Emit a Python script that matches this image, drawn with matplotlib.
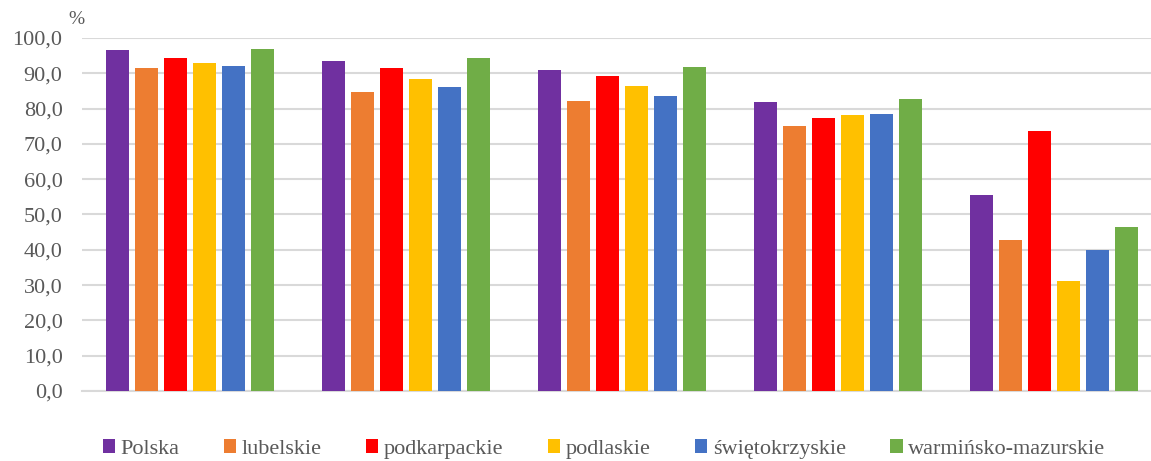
import matplotlib
matplotlib.use("Agg")
import matplotlib.pyplot as plt
import numpy as np

plt.rcParams['font.family'] = ['Liberation Serif', 'DejaVu Serif']

series = ["Polska", "lubelskie", "podkarpackie", "podlaskie", "świętokrzyskie", "warmińsko-mazurskie"]
colors = ["#7030A0", "#ED7D31", "#FF0000", "#FFC000", "#4472C4", "#70AD47"]
n_groups = 5
polska = [96.6, 93.4, 91.0, 81.8, 55.5]
lubelskie = [91.4, 84.7, 82.1, 75.1, 42.7]
podkarpackie = [94.3, 91.4, 89.1, 77.3, 73.6]
podlaskie = [92.9, 88.4, 86.3, 78.2, 31.1]
swietokrzyskie = [92.1, 86.0, 83.5, 78.6, 39.9]
warminsko = [96.9, 94.2, 91.7, 82.7, 46.6]
values = [polska, lubelskie, podkarpackie, podlaskie, swietokrzyskie, warminsko]
yticks = np.arange(0, 101, 10)

fig = plt.figure(figsize=(11.51, 4.61), dpi=100)
ax = fig.add_axes([82/1151, 70/461, 1 - 82/1151, (391-38)/461])

x = np.arange(n_groups)
pitch = 0.134
bw = 0.107
for i, (name, vals, c) in enumerate(zip(series, values, colors)):
    ax.bar(x + (i - 2.5) * pitch, vals, width=bw, color=c, label=name, zorder=3)

ax.set_ylim(0, 100)
ax.set_xlim(-0.5, 4.45)
ax.set_yticks(yticks)
ax.set_yticklabels([f"{v:.1f}".replace('.', ',') for v in yticks], fontsize=16, color="#595959")
ax.set_xticks([])
ax.tick_params(axis='y', length=0, pad=14)
ax.grid(axis='y', color="#D9D9D9", linewidth=1.5, zorder=0)
for s in ['top', 'right', 'left']:
    ax.spines[s].set_visible(False)
ax.spines['bottom'].set_color("#D9D9D9")
ax.spines['bottom'].set_linewidth(1.5)

fig.text(68/1151, 1 - 20/461, "%", fontsize=14, color="#595959", ha='left', va='center')

handles, labels = ax.get_legend_handles_labels()
leg = fig.legend(handles, labels, loc='center', bbox_to_anchor=(604/1151, 1 - 449/461), ncol=6,
                 frameon=False, fontsize=16, handlelength=0.55, handleheight=0.55,
                 handletextpad=0.25, columnspacing=2.0, labelcolor="#595959")

fig.savefig("out.png", dpi=100)
